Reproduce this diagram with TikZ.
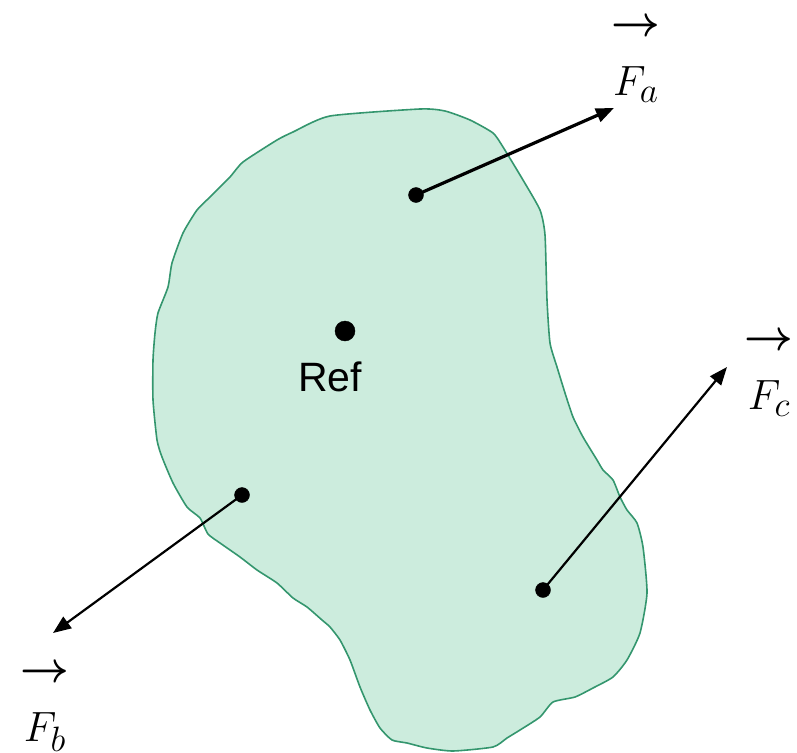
\documentclass[tikz,border=0pt]{standalone}
\usepackage{amsmath,amssymb}
\usepackage{fontspec}
\setsansfont{Liberation Sans}
\usepackage{tikz}
\usetikzlibrary{calc,arrows.meta}
\usepackage{xcolor}
\definecolor{bodyfill}{RGB}{204,236,221}
\definecolor{bodyline}{RGB}{52,150,110}
\newcommand{\heavyarrow}{\mbox{\scalebox{1.15}[1]{\rlap{$\rightarrow$}\raisebox{0.5pt}{$\rightarrow$}}}}
\newcommand{\forcename}[1]{\scalebox{1.7}{\Huge$\begin{array}{@{}c@{}}\heavyarrow\\[5pt] F_{#1}\end{array}$}}

\begin{document}
\begin{tikzpicture}[x=1pt,y=-1pt]
  \tikzset{pointdot/.style={circle,fill=black,draw=black,inner sep=0pt,minimum size=15pt}}
  \tikzset{refdot/.style={circle,fill=black,draw=black,inner sep=0pt,minimum size=20pt}}
  \tikzset{forcearrow/.style={draw=black,line width=2.2pt,-{Triangle[length=18pt,width=14pt]}}}
  \tikzset{forcelabel/.style={inner sep=0pt}}
  \useasboundingbox (0,0) rectangle (797,752);
  % rigid body
  \draw[fill=bodyfill,draw=bodyline,line width=1.6pt] plot[smooth cycle,tension=0.35] coordinates {
    (330,116) (420,109) (445,111) (470,120) (493,133) (503,147) (523,180) (540,210)
    (545,235) (547,300) (550,343) (557,367) (565,393) (573,417) (583,437) (597,460)
    (603,470) (613,480) (620,497) (627,510) (637,523) (643,547) (647,593) (640,633)
    (627,660) (613,677) (593,688) (575,697) (553,702) (540,717) (520,730) (507,738)
    (493,747) (453,751) (427,748) (407,743) (392,740) (380,728) (370,710) (360,687)
    (350,660) (340,640) (330,627) (322,620) (307,607) (293,598) (277,583) (257,570)
    (240,557) (220,543) (208,534) (200,518) (187,507) (173,483) (162,457) (157,440)
    (153,400) (153,360) (155,333) (158,313) (168,287) (172,263) (183,233) (197,210)
    (210,197) (230,177) (243,162) (277,140) (293,132)};
  % points of application
  \node[refdot] (r0) at (345,331) {};
  \node[font=\sffamily\fontsize{41}{44}\selectfont,inner sep=0pt] (rl) at (330,377) {Ref};
  \node[pointdot] (pa) at (416,195) {};
  \node[pointdot] (pb) at (242,495) {};
  \node[pointdot] (pc) at (543,590) {};
  \coordinate (ta) at (614,108);
  \coordinate (tb) at (53,633);
  \coordinate (tc) at (727,367);
  % forces
  \draw[forcearrow,line width=3.2pt] (pa.center) -- (ta);
  \draw[forcearrow] (pb.center) -- (tb);
  \draw[forcearrow] (pc.center) -- (tc);
  \node[forcelabel] (fa) at (636,56) {\forcename{a}};
  \node[forcelabel] (fb) at (45,702) {\forcename{b}};
  \node[forcelabel] (fc) at (769,370) {\forcename{c}};
\end{tikzpicture}
\end{document}
